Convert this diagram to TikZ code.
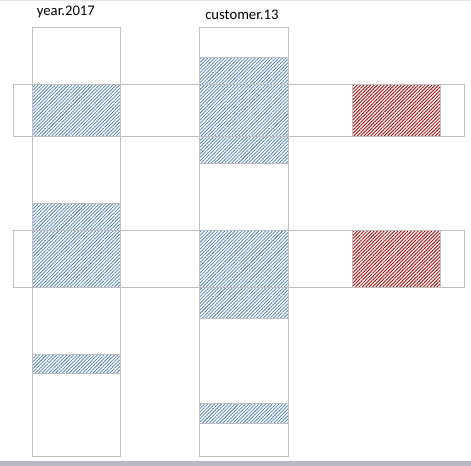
\documentclass[tikz,border=0pt]{standalone}
\usepackage{fontspec}
\setmainfont{Carlito}
\usetikzlibrary{patterns.meta}
\definecolor{gridgray}{HTML}{BFBFBF}
\definecolor{hatchblue}{HTML}{4A7EB8}
\definecolor{hatchred}{HTML}{B00000}
\definecolor{bargray}{HTML}{B8B9C6}
\definecolor{topgray}{HTML}{E2E2E6}
\tikzset{
  cellbox/.style={draw=gridgray, line width=0.75pt},
  bluehatch/.style={pattern={Lines[angle=45,distance=1.8pt,line width=0.55pt]}, pattern color=hatchblue},
  redhatch/.style={pattern={Lines[angle=45,distance=1.8pt,line width=0.65pt]}, pattern color=hatchred},
  collabel/.style={anchor=base west, inner sep=0pt, font=\fontsize{11pt}{13pt}\selectfont}
}
\begin{document}
\begin{tikzpicture}[x=0.75pt,y=-0.75pt]
\useasboundingbox (0,0) rectangle (471,466);
\fill[white] (0,0) rectangle (471,466);
% top line and bottom bar
\fill[topgray] (0,0) rectangle (471,1.3);
\fill[bargray] (0,461) rectangle (471,466);
% hatched cells: column 1
\fill[bluehatch] (32.3,84.3) rectangle (120.3,136.3);
\fill[bluehatch] (32.3,203.3) rectangle (120.3,287.3);
\fill[bluehatch] (32.3,354.3) rectangle (120.3,374);
% hatched cells: column 2
\fill[bluehatch] (199.3,57.3) rectangle (288.3,163.3);
\fill[bluehatch] (199.3,230.3) rectangle (288.3,318.3);
\fill[bluehatch] (199.3,403.3) rectangle (288.3,423);
% red cells
\fill[redhatch] (352.3,84.3) rectangle (440.3,136);
\fill[redhatch] (352.3,230.3) rectangle (440.3,287.3);
% cell borders
\draw[cellbox] (32.3,203.3) -- (120.3,203.3);
\draw[cellbox] (32.3,354.3) -- (120.3,354.3) (32.3,374) -- (120.3,374);
\draw[cellbox] (199.3,57.3) -- (288.3,57.3) (199.3,163.3) -- (288.3,163.3);
\draw[cellbox] (199.3,318.3) -- (288.3,318.3);
\draw[cellbox] (199.3,403.3) -- (288.3,403.3) (199.3,423) -- (288.3,423);
\draw[cellbox] (352.3,84.3) rectangle (440.3,136.3);
\draw[cellbox] (352.3,230.3) rectangle (440.3,287.3);
% columns
\draw[cellbox] (32.3,27.3) rectangle (120.3,456);
\draw[cellbox] (199.3,27.3) rectangle (288.3,456);
% rows
\draw[cellbox] (13.3,84.3) rectangle (464.3,136.3);
\draw[cellbox] (13.3,230.3) rectangle (464.3,287.3);
% labels
\node[collabel] (lyear) at (36.7,15.3) {year.2017};
\node[collabel] (lcust) at (205,19.3) {customer.13};
\end{tikzpicture}
\end{document}
